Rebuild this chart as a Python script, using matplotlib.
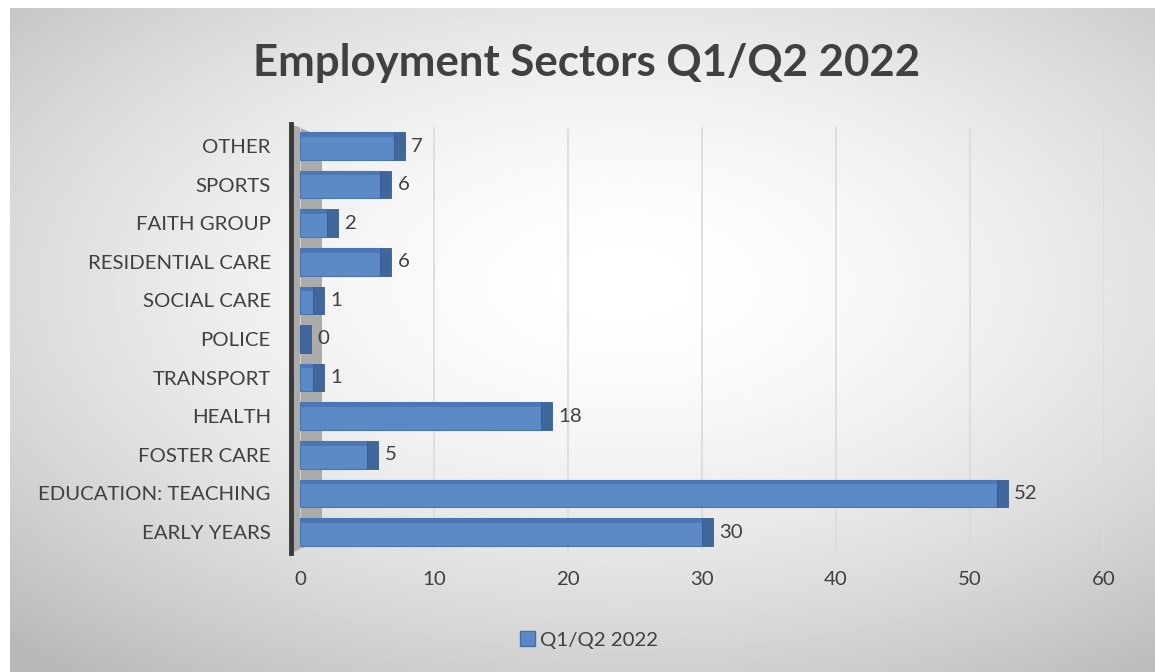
import matplotlib.pyplot as plt
import matplotlib.patches as mpatches
import numpy as np

# datos
sectores = ['EARLY YEARS', 'EDUCATION: TEACHING', 'FOSTER CARE', 'HEALTH',
            'TRANSPORT', 'POLICE', 'SOCIAL CARE', 'RESIDENTIAL CARE',
            'FAITH GROUP', 'SPORTS', 'OTHER']
valores = [30, 52, 5, 18, 1, 0, 1, 6, 2, 6, 7]
serie = 'Q1/Q2 2022'
titulo = 'Employment Sectors Q1/Q2 2022'

plt.rcParams['font.family'] = ['Lato', 'DejaVu Sans']
texto = '#404040'
azul = '#5b8ac6'
azul_osc = '#40679c'

fig = plt.figure(figsize=(11.55, 6.72), dpi=100)
fig.patch.set_facecolor('white')

# fondo con degradado radial
bg = fig.add_axes([10 / 1155, 0, 1 - 10 / 1155, 1 - 8 / 672], zorder=-10)
xx, yy = np.meshgrid(np.linspace(-1, 1, 400), np.linspace(-1, 1, 240))
r = np.sqrt(((xx - 0.07) / 1.05) ** 2 + ((yy + 0.17) / 1.0) ** 2)
grad = 1 - 0.14 * np.clip(r, 0, 1.5) ** 1.7
bg.imshow(grad, cmap='gray', vmin=0, vmax=1, aspect='auto', extent=[0, 1, 0, 1],
          interpolation='bilinear')
bg.set_axis_off()

# pared lateral gris (detras de las barras)
pared = mpatches.Polygon([(291 / 1155, 1 - 124 / 672), (322 / 1155, 1 - 137 / 672),
                          (322 / 1155, 1 - 540 / 672), (291 / 1155, 1 - 553 / 672)],
                         closed=True, transform=fig.transFigure, facecolor='#ababab',
                         edgecolor='none', zorder=0.5)
fig.patches.append(pared)
fig.add_artist(plt.Line2D([291 / 1155, 291 / 1155], [1 - 124 / 672, 1 - 553 / 672],
                          transform=fig.transFigure, color='#3a3a3a', lw=3.5, zorder=0.6))

ax = fig.add_axes([300 / 1155, 1 - 551.3 / 672, 804 / 1155, 424.6 / 672], zorder=1)
ax.set_facecolor('none')
y = np.arange(len(sectores))
cap = 0.8

# cara frontal
ax.barh(y, valores, height=0.72, color=azul, edgecolor='#4a76b0', linewidth=0.8, zorder=3)
# franja superior mas oscura
ax.barh(y + 0.30, valores, height=0.12, color='#4b77b3', linewidth=0, zorder=4)
# tapa del extremo
ax.barh(y, [cap] * len(valores), left=valores, height=0.72, color=azul_osc,
        edgecolor='#375d92', linewidth=0.6, zorder=3)

for yi, v in zip(y, valores):
    ax.text(v + cap + 0.5, yi, str(v), va='center', ha='left', fontsize=14.7, color=texto)

ax.set_xlim(0, 60)
ax.set_ylim(-0.5, len(sectores) - 0.5)
ax.set_xticks(range(0, 61, 10))
ax.set_yticks(y)
ax.set_yticklabels(sectores)
ax.tick_params(axis='both', length=0, labelsize=14.7, labelcolor=texto)
ax.tick_params(axis='x', pad=14)
ax.tick_params(axis='y', pad=21)
ax.grid(axis='x', color='#dadada', linewidth=1.2, zorder=0)
ax.set_axisbelow(True)
for s in ax.spines.values():
    s.set_visible(False)

fig.text(0.508, 1 - 63 / 672, titulo, ha='center', va='center', fontsize=31.5,
         fontweight='bold', color=texto)

# leyenda
handle = mpatches.Patch(facecolor=azul, edgecolor='#41719c', label=serie)
fig.legend(handles=[handle], loc='center', bbox_to_anchor=(0.51, 1 - 640 / 672),
           frameon=False, fontsize=14.7, labelcolor=texto, handlelength=0.75,
           handleheight=0.75, handletextpad=0.25)

plt.savefig('out.png', dpi=100, facecolor='white')
